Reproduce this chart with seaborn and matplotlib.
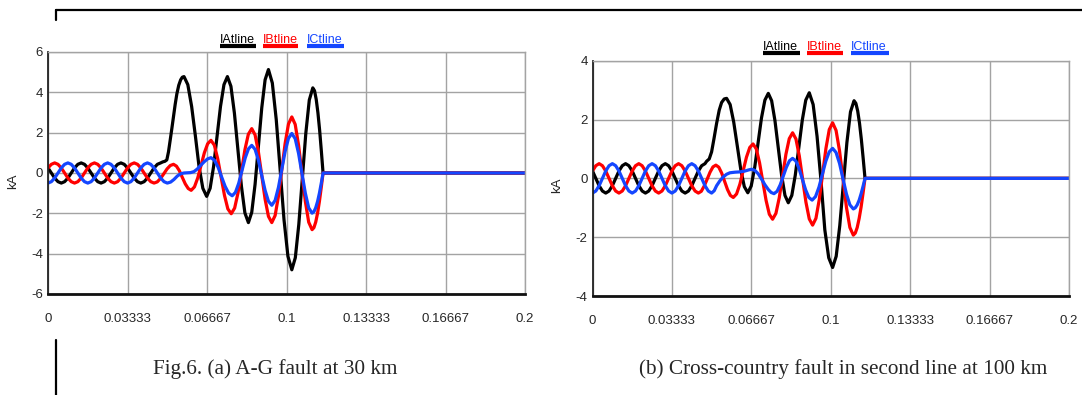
import numpy as np
import pandas as pd
import matplotlib
matplotlib.use("Agg")
import matplotlib.pyplot as plt
from matplotlib.lines import Line2D
import seaborn as sns

# ---- data (time in ms, current in kA) ----
T_PRE_MS = [0.0, 1.389, 2.778, 4.167, 5.556, 6.944, 8.333, 9.722, 11.111, 12.5,
            13.889, 15.278, 16.667, 18.056, 19.444, 20.833, 22.222, 23.611, 25.0,
            26.389, 27.778, 29.167, 30.556, 31.944, 33.333, 34.722, 36.111, 37.5,
            38.889, 40.278, 41.667, 43.056, 44.444, 45.833, 47.222, 48.611, 50.0]

# pre-fault load currents (same in both cases)
ia_pre = [0.25, 0, -0.25, -0.43, -0.5, -0.43, -0.25, 0, 0.25, 0.43, 0.5, 0.43,
          0.25, 0, -0.25, -0.43, -0.5, -0.43, -0.25, 0, 0.25, 0.43, 0.5, 0.43,
          0.25, 0, -0.25, -0.43, -0.5, -0.43, -0.25, 0, 0.25, 0.43, 0.5]
ib_pre = [0.25, 0.43, 0.5, 0.43, 0.25, 0, -0.25, -0.43, -0.5, -0.43, -0.25, 0,
          0.25, 0.43, 0.5, 0.43, 0.25, 0, -0.25, -0.43, -0.5, -0.43, -0.25, 0,
          0.25, 0.43, 0.5, 0.43, 0.25, 0, -0.25, -0.43, -0.5]
ic_pre = [-0.5, -0.43, -0.25, 0, 0.25, 0.43, 0.5, 0.43, 0.25, 0, -0.25, -0.43,
          -0.5, -0.43, -0.25, 0, 0.25, 0.43, 0.5, 0.43, 0.25, 0, -0.25, -0.43,
          -0.5, -0.43, -0.25, 0, 0.25, 0.43, 0.5, 0.43, 0.25, 0, -0.25, -0.43, -0.5]

# (a) A-G fault at 30 km
ia_a_t = [48.1, 49.0, 49.8, 50.5, 51.2, 51.9, 52.6, 53.3, 54.0, 54.8, 55.6, 56.3, 57.0,
          58.6, 60.2, 61.8, 63.3, 64.9, 66.5,
          67.95, 69.4, 70.85, 72.3, 73.75, 75.2,
          76.67, 78.13, 79.6, 81.07, 82.53, 84.0,
          85.4, 86.8, 88.2, 89.6, 91.0, 92.4,
          94.03, 95.67, 97.3, 98.93, 100.57, 102.2,
          103.67, 105.13, 106.6, 108.07, 109.53, 111.0,
          111.72, 112.43, 113.15, 113.87, 114.58, 115.3, 200.0]
ia_a_v = [0.55, 0.58, 0.65, 1.05, 1.62, 2.2, 2.8, 3.4, 3.92, 4.35, 4.62, 4.75, 4.78,
          4.38, 3.30, 1.81, 0.32, -0.76, -1.16,
          -0.76, 0.32, 1.81, 3.30, 4.38, 4.78,
          4.30, 2.97, 1.16, -0.65, -1.98, -2.46,
          -1.95, -0.56, 1.34, 3.23, 4.62, 5.13,
          4.46, 2.65, 0.17, -2.32, -4.13, -4.80,
          -4.20, -2.55, -0.29, 1.97, 3.62, 4.22,
          4.08, 3.65, 2.98, 2.11, 1.09, 0.0, 0.0]

ib_a_t = [45.80, 47.16, 48.52, 49.88, 51.24, 52.6,
          53.83, 55.07, 56.3, 57.53, 58.77, 60.0,
          61.38, 62.77, 64.15, 65.53, 66.92, 68.3,
          69.72, 71.13, 72.55, 73.97, 75.38, 76.8,
          78.23, 79.67, 81.1, 82.53, 83.97, 85.4,
          86.8, 88.2, 89.6, 91.0, 92.4, 93.8,
          95.2, 96.6, 98.0, 99.4, 100.8, 102.2,
          103.62, 105.03, 106.45, 107.87, 109.28, 110.7,
          111.47, 112.23, 113.0, 113.77, 114.53, 115.3, 200.0]
ib_a_v = [-0.44, -0.27, -0.04, 0.20, 0.37, 0.43,
          0.34, 0.11, -0.22, -0.54, -0.77, -0.86,
          -0.69, -0.24, 0.38, 1.00, 1.45, 1.62,
          1.38, 0.71, -0.20, -1.11, -1.78, -2.02,
          -1.74, -0.97, 0.09, 1.15, 1.92, 2.20,
          1.89, 1.04, -0.13, -1.30, -2.15, -2.46,
          -2.11, -1.15, 0.16, 1.47, 2.43, 2.78,
          2.41, 1.38, -0.02, -1.41, -2.44, -2.81,
          -2.71, -2.43, -1.99, -1.41, -0.73, 0.0, 0.0]

ic_a_t = [51.4, 52.8, 54.2, 55.6, 57.0, 58.4, 59.8, 61.2, 62.6, 64.0, 65.5, 66.9, 68.3,
          69.78, 71.27, 72.75, 74.23, 75.72, 77.2,
          78.57, 79.93, 81.3, 82.67, 84.03, 85.4,
          86.8, 88.2, 89.6, 91.0, 92.4, 93.8,
          95.2, 96.6, 98.0, 99.4, 100.8, 102.2,
          103.62, 105.03, 106.45, 107.87, 109.28, 110.7,
          111.47, 112.23, 113.0, 113.77, 114.53, 115.3, 200.0]
ic_a_v = [-0.45, -0.32, -0.15, -0.04, 0.0, 0.01, 0.02, 0.07, 0.20, 0.38, 0.56, 0.70, 0.76,
          0.63, 0.29, -0.19, -0.66, -1.00, -1.13,
          -0.96, -0.51, 0.12, 0.75, 1.20, 1.37,
          1.17, 0.63, -0.12, -0.86, -1.40, -1.60,
          -1.36, -0.71, 0.18, 1.07, 1.72, 1.96,
          1.70, 0.97, -0.02, -1.00, -1.73, -1.99,
          -1.92, -1.72, -1.41, -1.00, -0.52, 0.0, 0.0]

# (b) cross-country fault in second line at 100 km
ia_b_t = [47.9, 49.0, 50.0, 51.0, 52.1, 53.2, 54.2, 55.3, 56.3,
          57.78, 59.27, 60.75, 62.23, 63.72, 65.2,
          66.63, 68.07, 69.5, 70.93, 72.37, 73.8,
          75.2, 76.6, 78.0, 79.4, 80.8, 82.2,
          83.67, 85.13, 86.6, 88.07, 89.53, 91.0,
          92.63, 94.27, 95.9, 97.53, 99.17, 100.8,
          102.3, 103.8, 105.3, 106.8, 108.3, 109.8,
          110.57, 111.33, 112.1, 112.87, 113.63, 114.4, 200.0]
ia_b_v = [0.58, 0.66, 0.90, 1.35, 1.87, 2.32, 2.58, 2.70, 2.72,
          2.51, 1.92, 1.12, 0.31, -0.28, -0.49,
          -0.26, 0.36, 1.20, 2.05, 2.66, 2.89,
          2.64, 1.96, 1.03, 0.10, -0.58, -0.83,
          -0.58, 0.11, 1.04, 1.98, 2.66, 2.91,
          2.51, 1.43, -0.06, -1.75, -2.70, -3.03,
          -2.65, -1.61, -0.20, 1.22, 2.26, 2.64,
          2.55, 2.29, 1.87, 1.32, 0.68, 0.0, 0.0]

ib_b_t = [45.67, 46.9, 48.12, 49.35, 50.57, 51.8,
          53.02, 54.23, 55.45, 56.67, 57.88, 59.1,
          60.48, 61.87, 63.25, 64.63, 66.02, 67.4,
          68.77, 70.13, 71.5, 72.87, 74.23, 75.6,
          77.0, 78.4, 79.8, 81.2, 82.6, 84.0,
          85.4, 86.8, 88.2, 89.6, 91.0, 92.4,
          93.8, 95.2, 96.6, 98.0, 99.4, 100.8,
          102.25, 103.7, 105.15, 106.6, 108.05, 109.5,
          110.32, 111.13, 111.95, 112.77, 113.58, 114.4, 200.0]
ib_b_v = [-0.44, -0.26, -0.03, 0.21, 0.39, 0.45,
          0.38, 0.18, -0.10, -0.38, -0.58, -0.65,
          -0.53, -0.20, 0.26, 0.72, 1.05, 1.17,
          1.00, 0.53, -0.11, -0.75, -1.22, -1.39,
          -1.19, -0.66, 0.08, 0.82, 1.35, 1.55,
          1.34, 0.77, -0.02, -0.81, -1.38, -1.59,
          -1.36, -0.72, 0.15, 1.02, 1.66, 1.89,
          1.63, 0.94, -0.02, -0.98, -1.67, -1.93,
          -1.86, -1.67, -1.36, -0.97, -0.50, 0.0, 0.0]

ic_b_t = [51.1, 52.1, 53.5, 54.9, 56.3, 57.7, 59.8, 61.9, 64.0, 65.7, 66.8, 68.2,
          69.6, 71.0, 72.4, 73.8, 75.0, 76.2,
          77.5, 78.8, 80.1, 81.4, 82.7, 84.0,
          85.37, 86.73, 88.1, 89.47, 90.83, 92.2,
          93.63, 95.07, 96.5, 97.93, 99.37, 100.8,
          102.25, 103.7, 105.15, 106.6, 108.05, 109.5,
          110.32, 111.13, 111.95, 112.77, 113.58, 114.4, 200.0]
ic_b_v = [-0.42, -0.25, -0.08, 0.05, 0.14, 0.19, 0.21, 0.22, 0.25, 0.29, 0.31, 0.27,
          0.15, -0.03, -0.22, -0.38, -0.48, -0.52,
          -0.44, -0.22, 0.08, 0.38, 0.60, 0.68,
          0.59, 0.33, -0.03, -0.39, -0.65, -0.74,
          -0.62, -0.30, 0.14, 0.58, 0.90, 1.02,
          0.88, 0.51, -0.01, -0.53, -0.90, -1.04,
          -1.00, -0.90, -0.74, -0.52, -0.27, 0.0, 0.0]

PHASES = ["IAtline", "IBtline", "ICtline"]
COLORS = {"IAtline": "#000000", "IBtline": "#ff0000", "ICtline": "#1446ff"}

X_TICKS = [0, 0.03333, 0.06667, 0.1, 0.13333, 0.16667, 0.2]
X_LABELS = ["0", "0.03333", "0.06667", "0.1", "0.13333", "0.16667", "0.2"]
Y_TICKS_A = [-6, -4, -2, 0, 2, 4, 6]
Y_TICKS_B = [-4, -2, 0, 2, 4]

CAPTION_A = "Fig.6. (a) A-G fault at 30 km"
CAPTION_B = "(b) Cross-country fault in second line at 100 km"

SANS = ["Liberation Sans Narrow", "Liberation Sans", "DejaVu Sans"]
SERIF = ["Liberation Serif", "DejaVu Serif"]
TICK_SIZE = 9.5
LEGEND_SIZE = 9.0


def build_frame(fault):
    rows = []
    pres = [ia_pre, ib_pre, ic_pre]
    for name, pre, (ft, fv) in zip(PHASES, pres, fault):
        t = np.array(T_PRE_MS[:len(pre)] + ft) / 1000.0
        v = np.array(pre + fv)
        rows.append(pd.DataFrame({"t": t, "kA": v, "phase": name}))
    return pd.concat(rows, ignore_index=True)


def style_axes(ax, yticks):
    ax.set_xlim(0, 0.2)
    ax.set_ylim(yticks[0], yticks[-1])
    ax.set_xticks(X_TICKS)
    ax.set_xticklabels(X_LABELS)
    ax.set_yticks(yticks)
    ax.set_yticklabels([str(v) for v in yticks])
    ax.grid(True, color="#a3a3a3", linewidth=1.0)
    ax.set_axisbelow(True)
    ax.tick_params(axis="x", length=0, pad=13.5, labelsize=TICK_SIZE)
    ax.tick_params(axis="y", length=0, pad=3.5, labelsize=TICK_SIZE)
    for lab in ax.get_xticklabels() + ax.get_yticklabels():
        lab.set_family(SANS)
    for side in ("top", "right"):
        ax.spines[side].set_color("#a3a3a3")
        ax.spines[side].set_linewidth(1.0)
    ax.spines["left"].set_color("#222222")
    ax.spines["left"].set_linewidth(1.3)
    ax.spines["bottom"].set_color("#111111")
    ax.spines["bottom"].set_linewidth(2.0)
    ax.set_xlabel("")
    ax.set_ylabel("kA", fontsize=TICK_SIZE, family=SANS)


def add_legend(ax, x_text, x_ends, y_text, y_line):
    # labels written above a thick coloured bar, as in the PSCAD plot
    for name, x0, x1 in zip(PHASES, x_text, x_ends):
        ax.text(x0, y_text, name, color=COLORS[name], transform=ax.transAxes,
                ha="left", va="baseline", fontsize=LEGEND_SIZE, family=SANS,
                clip_on=False)
        ax.add_line(Line2D([x0, x1], [y_line, y_line], transform=ax.transAxes,
                           color=COLORS[name], linewidth=3.0,
                           solid_capstyle="butt", clip_on=False))


sns.set_style("white")
plt.rcParams["axes.unicode_minus"] = False
plt.rcParams["font.family"] = SANS

fig = plt.figure(figsize=(10.82, 3.95), dpi=100)
ax_a = fig.add_axes([0.0444, 0.2557, 0.4409, 0.6127])
ax_b = fig.add_axes([0.5476, 0.2506, 0.4403, 0.5957])

df_a = build_frame([(ia_a_t, ia_a_v), (ib_a_t, ib_a_v), (ic_a_t, ic_a_v)])
df_b = build_frame([(ia_b_t, ia_b_v), (ib_b_t, ib_b_v), (ic_b_t, ic_b_v)])

for ax, df, yt in ((ax_a, df_a, Y_TICKS_A), (ax_b, df_b, Y_TICKS_B)):
    sns.lineplot(data=df, x="t", y="kA", hue="phase", hue_order=PHASES,
                 palette=COLORS, estimator=None, sort=False, linewidth=2.3,
                 legend=False, ax=ax, solid_joinstyle="round", solid_capstyle="round")
    style_axes(ax, yt)

ax_a.yaxis.set_label_coords(-0.061, 0.467)
ax_b.yaxis.set_label_coords(-0.062, 0.472)

add_legend(ax_a, [0.3606, 0.4507, 0.5419], [0.4350, 0.5241, 0.6205], 1.036, 1.025)
add_legend(ax_b, [0.3579, 0.4502, 0.5426], [0.4356, 0.5268, 0.6224], 1.046, 1.031)

# page decorations around the figure (borders of the paper's table)
fig.add_artist(Line2D([0.0516, 1.0], [0.9747, 0.9747], color="black", linewidth=1.6))
fig.add_artist(Line2D([0.0516, 0.0516], [0.9747, 0.949], color="black", linewidth=1.6))
fig.add_artist(Line2D([0.0516, 0.0516], [0.139, 0.0], color="black", linewidth=1.6))

fig.text(275 / 1082, 1 - 369 / 395, CAPTION_A, ha="center", va="center",
         fontsize=15.3, family=SERIF)
fig.text(843 / 1082, 1 - 369 / 395, CAPTION_B, ha="center", va="center",
         fontsize=15.3, family=SERIF)

fig.savefig("out.png", dpi=100)
